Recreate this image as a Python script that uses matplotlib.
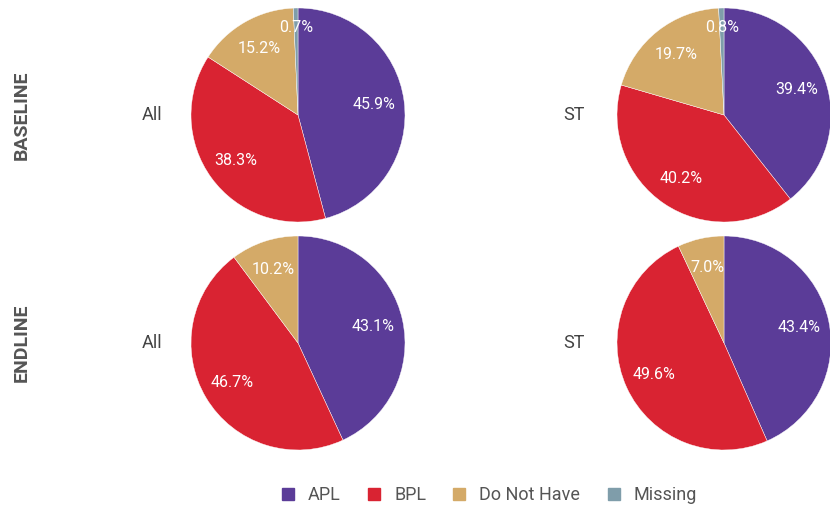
import numpy as np
import matplotlib.pyplot as plt
from matplotlib.lines import Line2D

# Dane
categories = ['APL', 'BPL', 'Do Not Have', 'Missing']
colors = ['#5B3C98', '#D92332', '#D4AA68', '#7F9DAA']

baseline_all = [45.9, 38.3, 15.2, 0.7]
baseline_st = [39.4, 40.2, 19.7, 0.8]
endline_all = [43.1, 46.7, 10.2, 0.0]
endline_st = [43.4, 49.6, 7.0, 0.0]

row_labels = ['BASELINE', 'ENDLINE']
group_labels = ['All', 'ST']
panels = [[baseline_all, baseline_st], [endline_all, endline_st]]

W, H = 830, 509
fig = plt.figure(figsize=(W / 100, H / 100), dpi=100)
plt.rcParams['font.family'] = ['Roboto', 'DejaVu Sans']

r = 107
centers_x = [298, 724]
centers_y = [115, 343]
label_x = [152, 574]

for i, row in enumerate(panels):
    cy = centers_y[i]
    fig.text(22 / W, 1 - cy / H, row_labels[i], rotation=90, ha='center', va='center',
             fontsize=14, fontweight='bold', color='#555555')
    for j, vals in enumerate(row):
        cx = centers_x[j]
        ax = fig.add_axes([(cx - r) / W, (H - cy - r) / H, 2 * r / W, 2 * r / H])
        vals = np.array(vals)
        keep = vals > 0
        wedges, _ = ax.pie(vals[keep], colors=[c for c, k in zip(colors, keep) if k],
                           startangle=90, counterclock=False, radius=1,
                           wedgeprops=dict(edgecolor='white', linewidth=0.3))
        for w, v in zip(wedges, vals[keep]):
            mid = np.deg2rad((w.theta1 + w.theta2) / 2)
            d = 0.82 if v < 5 else 0.72
            ax.text(d * np.cos(mid), d * np.sin(mid), f'{v:.1f}%', ha='center', va='center',
                    color='white', fontsize=11.5)
        ax.set_xlim(-1, 1)
        ax.set_ylim(-1, 1)
        ax.set_aspect('equal')
        ax.axis('off')
        fig.text(label_x[j] / W, 1 - cy / H, group_labels[j], ha='center', va='center',
                 fontsize=13, color='#444444')

handles = [Line2D([0], [0], marker='s', linestyle='', markersize=9, markerfacecolor=c,
                  markeredgecolor=c) for c in colors]
fig.legend(handles, categories, loc='center', bbox_to_anchor=(488 / W, 1 - 495 / H), ncol=4,
           frameon=False, fontsize=13, labelcolor='#555555', handletextpad=0.6,
           columnspacing=1.35, handlelength=1.0)

plt.savefig('out.png', dpi=100)
